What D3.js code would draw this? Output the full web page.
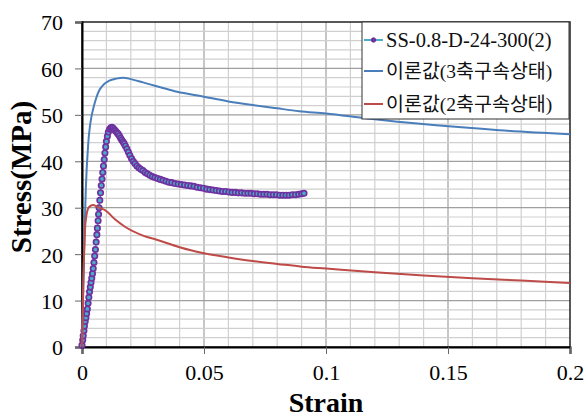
<!DOCTYPE html>
<html>
<head>
<meta charset="utf-8">
<script src="https://cdn.jsdelivr.net/npm/d3@7"></script>
<style>
  body { margin: 0; background: #fff; }
  svg { display: block; }
</style>
</head>
<body>
<div id="chart"></div>
<script>
// series names
const seriesNames = ["SS-0.8-D-24-300(2)", "이론값(3축구속상태)", "이론값(2축구속상태)"];

// experimental curve (strain, stress MPa)
const expStrain = [0.0000,0.0003,0.0005,0.0008,0.0010,0.0013,0.0016,0.0019,0.0022,0.0025,0.0028,0.0031,0.0034,0.0037,0.0040,0.0043,0.0046,0.0049,0.0052,0.0055,0.0058,0.0061,0.0063,0.0066,0.0068,0.0070,0.0073,0.0076,0.0079,0.0082,0.0085,0.0088,0.0091,0.0094,0.0097,0.0100,0.0104,0.0108,0.0113,0.0118,0.0123,
  0.0128,0.0133,0.0138,0.0143,0.0148,0.0153,0.0158,0.0163,0.0168,0.0173,0.0178,0.0184,0.0190,0.0196,0.0203,0.0210,0.0217,0.0225,0.0233,0.0241,0.0250,0.0259,0.0268,0.0278,0.0288,0.0299,0.0310,0.0321,0.0332,0.0344,0.0356,0.0368,0.0381,0.0394,0.0407,0.0420,0.0433,0.0446,0.0459,0.0472,0.0485,0.0498,0.0511,0.0524,0.0537,0.0550,0.0563,0.0576,0.0589,0.0602,0.0615,0.0628,0.0641,0.0654,0.0667,0.0680,0.0693,0.0706,0.0719,0.0732,0.0745,0.0758,0.0771,0.0784,0.0797,0.0810,0.0823,0.0836,0.0849,0.0862,0.0875,0.0888,0.0900,0.0910];
const expStress = [0.4,1.5,2.4,3.5,4.5,5.5,6.3,7.2,8.2,9.4,10.7,11.9,12.9,13.9,14.8,15.8,16.9,18.2,19.6,21.0,22.6,24.2,25.6,27.2,28.6,30.0,31.6,33.2,34.8,36.2,37.6,39.0,40.4,41.8,43.1,44.3,45.4,46.3,46.9,47.2,47.3,
  47.1,46.8,46.5,46.2,45.9,45.5,45.0,44.6,44.2,43.8,43.3,42.7,42.0,41.3,40.6,40.0,39.5,39.0,38.6,38.3,38.0,37.6,37.3,37.0,36.7,36.5,36.3,36.1,35.9,35.7,35.5,35.4,35.2,35.1,35.0,34.9,34.8,34.7,34.6,34.4,34.3,34.2,34.0,33.9,33.8,33.7,33.6,33.5,33.5,33.4,33.3,33.3,33.2,33.2,33.1,33.1,33.1,33.0,33.0,32.9,32.9,32.9,32.8,32.8,32.8,32.7,32.7,32.7,32.7,32.8,32.8,32.9,33.0,33.1];

// theoretical, triaxial confinement
const triStrain = [0,0.0004,0.0008,0.0012,0.0016,0.0019,0.0023,0.0027,0.0032,0.0038,0.0045,0.0053,0.0062,0.0071,0.008,0.009,0.011,0.014,0.017,0.02,0.025,0.031,0.038,0.046,0.05,0.06,0.07,0.08,0.089,0.1,0.117,0.144,0.171,0.2];
const triStress = [0,10,19.5,27.5,34.5,38.1,41.7,44.8,47.3,49.4,51.1,52.7,54.2,55.3,56.0,56.6,57.3,57.8,58.0,57.7,57.0,56.1,55.1,54.3,53.9,52.9,52.1,51.4,50.8,50.3,49.2,47.8,46.7,45.8];

// theoretical, biaxial confinement
const biStrain = [0,0.0004,0.0008,0.0012,0.0018,0.0025,0.0035,0.0045,0.006,0.008,0.0094,0.0135,0.0176,0.025,0.0313,0.04,0.045,0.05,0.06,0.07,0.08,0.09,0.1,0.12,0.14,0.16,0.18,0.2];
const biStress = [0,10,19,25,28.3,29.8,30.4,30.6,30.3,29.8,29.5,27.5,25.9,24.0,23.0,21.5,20.8,20.2,19.3,18.5,17.9,17.3,16.9,16.1,15.4,14.8,14.3,13.8];

const xTicks = [0, 0.05, 0.1, 0.15, 0.2];
const yTicks = [0, 10, 20, 30, 40, 50, 60, 70];

const width = 584, height = 417;
const plotL = 82, plotR = 570, plotT = 22, plotB = 347;

const x = d3.scaleLinear().domain([0, 0.2]).range([plotL, plotR]);
const y = d3.scaleLinear().domain([0, 70]).range([plotB, plotT]);

const svg = d3.select("#chart").append("svg")
  .attr("width", width).attr("height", height);

const serif = "'Liberation Serif', 'Times New Roman', 'Noto Sans CJK KR', serif";

// grid
const grid = svg.append("g");
grid.selectAll("line.vmin")
  .data(d3.range(1, 20).map(i => i * 0.01))
  .join("line")
  .attr("x1", d => x(d)).attr("x2", d => x(d))
  .attr("y1", plotT).attr("y2", plotB)
  .attr("stroke", d => Math.abs(d * 20 - Math.round(d * 20)) < 1e-6 ? "#a0a0a0" : "#d0d0d0")
  .attr("stroke-width", 1.2);
grid.selectAll("line.hmin")
  .data(d3.range(1, 35).map(i => i * 2))
  .join("line")
  .attr("x1", plotL).attr("x2", plotR)
  .attr("y1", d => y(d)).attr("y2", d => y(d))
  .attr("stroke", d => d % 10 === 0 ? "#a0a0a0" : "#d0d0d0")
  .attr("stroke-width", 1.2);

// frame
svg.append("rect")
  .attr("x", plotL).attr("y", plotT)
  .attr("width", plotR - plotL).attr("height", plotB - plotT)
  .attr("fill", "none").attr("stroke", "#222").attr("stroke-width", 1.5);

// axes
const xAxis = svg.append("g")
  .attr("transform", `translate(0,${plotB})`)
  .call(d3.axisBottom(x).tickValues(xTicks).tickFormat(d3.format("")).tickSize(7).tickPadding(10));
const yAxis = svg.append("g")
  .attr("transform", `translate(${plotL},0)`)
  .call(d3.axisLeft(y).tickValues(yTicks).tickSize(7).tickPadding(12));
[xAxis, yAxis].forEach(a => {
  a.select(".domain").attr("stroke", "#000").attr("stroke-width", 2);
  a.selectAll(".tick line").attr("stroke", "#666");
  a.selectAll(".tick text").attr("font-family", serif).attr("font-size", 22).attr("fill", "#000");
});
yAxis.selectAll(".tick text").attr("dy", "0.36em");

// axis titles
svg.append("text")
  .attr("x", 326).attr("y", 412)
  .attr("text-anchor", "middle")
  .attr("font-family", serif).attr("font-weight", "bold").attr("font-size", 28)
  .text("Strain");
svg.append("text")
  .attr("transform", "translate(31,177) rotate(-90)")
  .attr("text-anchor", "middle")
  .attr("font-family", serif).attr("font-weight", "bold").attr("font-size", 29)
  .text("Stress(MPa)");

const line = d3.line().x(d => x(d[0])).y(d => y(d[1])).curve(d3.curveMonotoneX);

const expData = expStrain.map((s, i) => [s, expStress[i]]);
const triData = triStrain.map((s, i) => [s, triStress[i]]);
const biData = biStrain.map((s, i) => [s, biStress[i]]);

// experimental series
svg.append("path").datum(expData)
  .attr("d", line).attr("fill", "none")
  .attr("stroke", "#4bacc6").attr("stroke-width", 1.5);
svg.append("g").selectAll("circle")
  .data(expData)
  .join("circle")
  .attr("cx", d => x(d[0])).attr("cy", d => y(d[1]))
  .attr("r", 2.7)
  .attr("fill", "#4bacc6")
  .attr("stroke", "#7030a0").attr("stroke-width", 1.7);

// theoretical series
svg.append("path").datum(triData)
  .attr("d", line).attr("fill", "none")
  .attr("stroke", "#4a7ebb").attr("stroke-width", 2);
svg.append("path").datum(biData)
  .attr("d", line).attr("fill", "none")
  .attr("stroke", "#be4b48").attr("stroke-width", 2);

// legend
const lg = svg.append("g");
lg.append("rect")
  .attr("x", 362).attr("y", 22).attr("width", 207).attr("height", 97)
  .attr("fill", "#fff").attr("stroke", "#333").attr("stroke-width", 1);
const rowsY = [40, 71, 104];
const colors = ["#4bacc6", "#4a7ebb", "#be4b48"];
seriesNames.forEach((name, i) => {
  lg.append("line")
    .attr("x1", 364).attr("x2", 383)
    .attr("y1", rowsY[i]).attr("y2", rowsY[i])
    .attr("stroke", colors[i]).attr("stroke-width", 2);
  if (i === 0) {
    lg.append("circle").attr("cx", 373.5).attr("cy", rowsY[i]).attr("r", 2.2)
      .attr("fill", "#7030a0").attr("stroke", "#7030a0");
  }
  lg.append("text")
    .attr("x", 386).attr("y", rowsY[i]).attr("dy", "0.35em")
    .attr("font-family", serif).attr("font-size", i === 0 ? 20.5 : 19.5)
    .attr("fill", "#111")
    .text(name);
});
</script>
</body>
</html>
